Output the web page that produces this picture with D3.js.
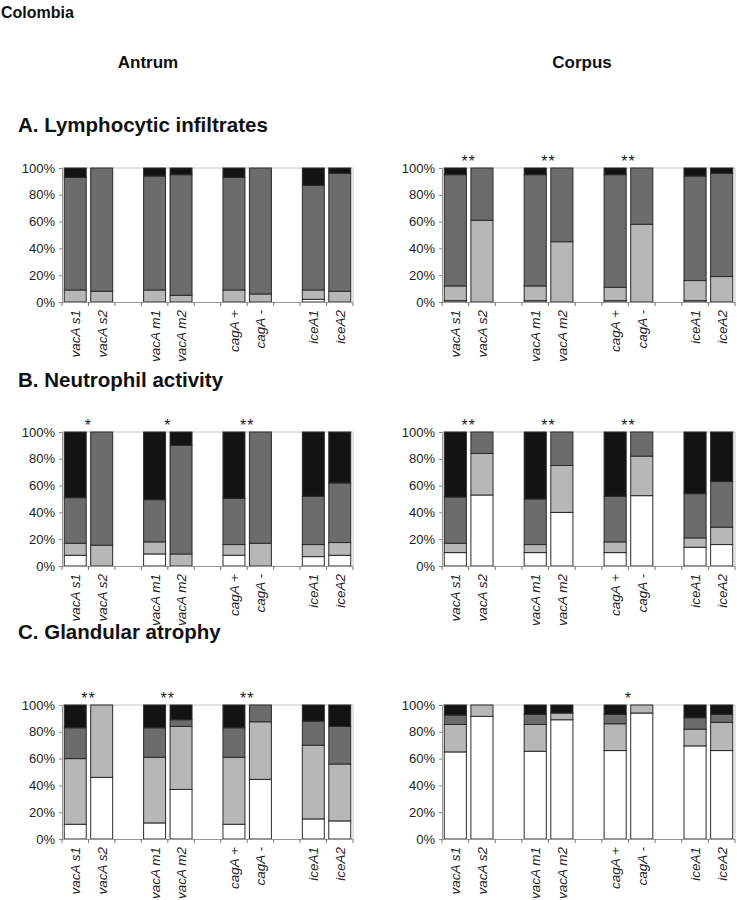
<!DOCTYPE html>
<html>
<head>
<meta charset="utf-8">
<script src="https://cdn.jsdelivr.net/npm/d3@7"></script>
<style>
  html, body { margin: 0; padding: 0; background: #fff; }
  svg { display: block; font-family: "Liberation Sans", Arial, sans-serif; }
</style>
</head>
<body>
<svg id="chart" width="737" height="900"></svg>
<script>
// ---------------- DATA ----------------
const categories = ["vacA s1", "vacA s2", "vacA m1", "vacA m2", "cagA +", "cagA -", "iceA1", "iceA2"];
const groupSize = 2;
const seriesNames = ["none", "mild", "moderate", "marked"];
const yTicks = [0, 20, 40, 60, 80, 100];

// each panel: [none(white), mild(light gray), moderate(dark gray), marked(black)] per category, in %
const lymphAntrum = [
  [0, 0, 0, 0, 0, 0, 2, 0],
  [9, 8, 9, 5, 9, 6, 7, 8],
  [84, 92, 85, 90, 84, 94, 78, 88],
  [7, 0, 6, 5, 7, 0, 13, 4]
];
const lymphCorpus = [
  [1, 0, 1, 0, 1, 0, 1, 0],
  [11, 61, 11, 45, 10, 58, 15, 19],
  [83, 39, 83, 55, 84, 42, 78, 77],
  [5, 0, 5, 0, 5, 0, 6, 4]
];
const neutroAntrum = [
  [8, 0, 9, 0, 8, 0, 7, 8],
  [9, 15.5, 9, 9, 8, 17, 9, 9.5],
  [34, 84.5, 31.5, 81, 34.5, 83, 36, 44.5],
  [49, 0, 50.5, 10, 49.5, 0, 48, 38]
];
const neutroCorpus = [
  [10, 53, 10, 40, 10, 52.5, 14, 16],
  [7, 31, 6, 35, 8, 29.5, 7, 13],
  [34.5, 16, 34, 25, 34, 18, 33, 34],
  [48.5, 0, 50, 0, 48, 0, 46, 37]
];
const atrophyAntrum = [
  [11, 46, 12, 37, 11, 44.5, 15, 13.5],
  [49, 54, 49, 47, 50, 43, 55, 42.5],
  [23, 0, 22, 5, 22, 12.5, 18, 28],
  [17, 0, 17, 11, 17, 0, 12, 16]
];
const atrophyCorpus = [
  [65, 91.5, 65.5, 89, 66, 94, 69.5, 66],
  [20.5, 8.5, 20, 5, 20, 6, 12.5, 21],
  [7, 0, 7.5, 0, 7, 0, 8.5, 6],
  [7.5, 0, 7, 6, 7, 0, 9.5, 7]
];

// significance markers per gene pair
const sigLymphAntrum = ["", "", "", ""];
const sigLymphCorpus = ["**", "**", "**", ""];
const sigNeutroAntrum = ["*", "*", "**", ""];
const sigNeutroCorpus = ["**", "**", "**", ""];
const sigAtrophyAntrum = ["**", "**", "**", ""];
const sigAtrophyCorpus = ["", "", "*", ""];

const rowTitles = ["A. Lymphocytic infiltrates", "B. Neutrophil activity", "C. Glandular atrophy"];
const columnTitles = ["Antrum", "Corpus"];
const countryTitle = "Colombia";

// ---------------- STYLE / LAYOUT ----------------
const colors = { none: "#ffffff", mild: "#b7b7b7", moderate: "#6c6c6c", marked: "#131313" };
const colLeft = [{ x0: 62, x1: 353 }, { x0: 442, x1: 735 }];
const rowY = [{ top: 168, bottom: 302 }, { top: 432, bottom: 566 }, { top: 705, bottom: 839 }];
const titleY = [132, 387, 639];
const colTitleX = [148, 582];

const panels = [
  [lymphAntrum, lymphCorpus, sigLymphAntrum, sigLymphCorpus],
  [neutroAntrum, neutroCorpus, sigNeutroAntrum, sigNeutroCorpus],
  [atrophyAntrum, atrophyCorpus, sigAtrophyAntrum, sigAtrophyCorpus]
];

const svg = d3.select("#chart");

// slot domain: categories with gaps between gene groups
const slots = [];
categories.forEach((c, i) => {
  if (i > 0 && i % groupSize === 0) slots.push("gap" + i);
  slots.push(c);
});

svg.append("text").attr("x", 1).attr("y", 18)
  .attr("font-size", 16).attr("font-weight", "bold").attr("fill", "#111")
  .text(countryTitle);

columnTitles.forEach((t, i) => {
  svg.append("text").attr("x", colTitleX[i]).attr("y", 68)
    .attr("text-anchor", "middle").attr("font-size", 17).attr("font-weight", "bold").attr("fill", "#111")
    .text(t);
});

rowTitles.forEach((t, r) => {
  svg.append("text").attr("x", 18).attr("y", titleY[r])
    .attr("font-size", 20.5).attr("font-weight", "bold").attr("fill", "#111")
    .text(t);
});

function drawPanel(data, sig, col, row) {
  const { x0, x1 } = colLeft[col];
  const { top, bottom } = rowY[row];
  const x = d3.scaleBand().domain(slots).range([x0, x1]).paddingInner(0.17).paddingOuter(0.085);
  const y = d3.scaleLinear().domain([0, 100]).range([bottom, top]);
  const g = svg.append("g");

  // plot frame (top / right)
  g.append("line").attr("x1", x0).attr("x2", x1).attr("y1", y(100)).attr("y2", y(100))
    .attr("stroke", "#c8c8c8").attr("stroke-width", 1);
  g.append("line").attr("x1", x1).attr("x2", x1).attr("y1", y(100)).attr("y2", y(0))
    .attr("stroke", "#c8c8c8").attr("stroke-width", 1);

  // y axis
  const yAxis = d3.axisLeft(y).tickValues(yTicks).tickFormat(d => d + "%").tickSize(3).tickPadding(4);
  const ya = g.append("g").attr("transform", `translate(${x0},0)`).call(yAxis);
  ya.select(".domain").attr("stroke", "#999");
  ya.selectAll(".tick line").attr("stroke", "#888");
  ya.selectAll("text").attr("font-size", 13).attr("fill", "#222")
    .attr("font-family", "Liberation Sans, Arial, sans-serif");

  // stacked bars
  const table = categories.map((c, i) => {
    const o = { cat: c };
    seriesNames.forEach((s, k) => { o[s] = data[k][i]; });
    return o;
  });
  const stack = d3.stack().keys(seriesNames)(table);
  stack.forEach(layer => {
    g.append("g").selectAll("rect").data(layer.filter(d => d[1] - d[0] > 0)).join("rect")
      .attr("x", d => x(d.data.cat))
      .attr("width", x.bandwidth())
      .attr("y", d => y(d[1]))
      .attr("height", d => y(d[0]) - y(d[1]))
      .attr("fill", colors[layer.key])
      .attr("stroke", "#2a2a2a").attr("stroke-width", 1);
  });

  // x axis with ticks at slot boundaries
  const step = x.step();
  g.append("line").attr("x1", x0).attr("x2", x1).attr("y1", bottom + 0.5).attr("y2", bottom + 0.5)
    .attr("stroke", "#999");
  d3.range(slots.length + 1).forEach(i => {
    const xx = x0 + i * step;
    g.append("line").attr("x1", xx).attr("x2", xx).attr("y1", bottom).attr("y2", bottom + 4)
      .attr("stroke", "#777");
  });

  // category labels
  categories.forEach(c => {
    const cx = x(c) + x.bandwidth() / 2;
    g.append("text")
      .attr("transform", `translate(${cx + 5},${bottom + 8}) rotate(-90)`)
      .attr("text-anchor", "end")
      .attr("font-size", 13.5).attr("font-style", "italic").attr("fill", "#222")
      .text(c);
  });

  // significance markers
  sig.forEach((s, p) => {
    if (!s) return;
    const a = categories[p * groupSize], b = categories[p * groupSize + 1];
    const cx = (x(a) + x(b) + x.bandwidth()) / 2;
    g.append("text").attr("x", cx).attr("y", top - 1)
      .attr("text-anchor", "middle").attr("font-size", 16).attr("fill", "#222")
      .attr("letter-spacing", 1)
      .text(s);
  });
}

panels.forEach((p, r) => {
  drawPanel(p[0], p[2], 0, r);
  drawPanel(p[1], p[3], 1, r);
});
</script>
</body>
</html>
